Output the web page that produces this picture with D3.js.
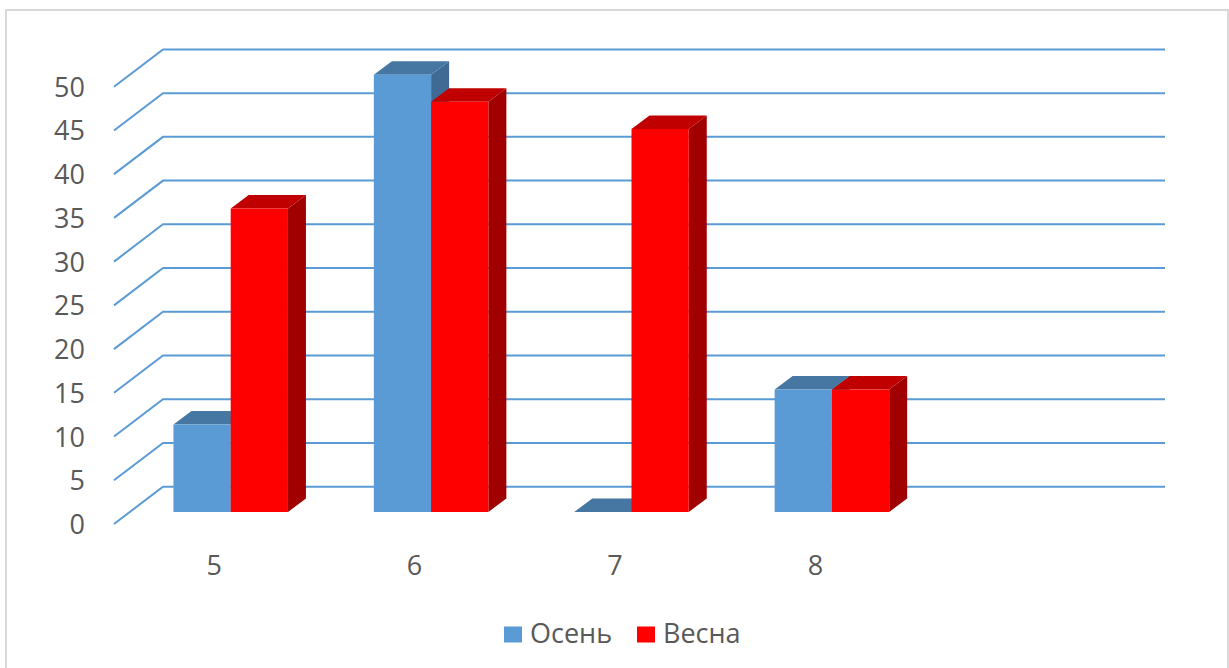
<!DOCTYPE html>
<html>
<head>
<meta charset="utf-8">
<script src="https://cdn.jsdelivr.net/npm/d3@7"></script>
<style>
  html, body { margin: 0; padding: 0; background: #fff; }
  svg { display: block; }
  text { font-family: "Open Sans", "Liberation Sans", sans-serif; fill: #595959; }
</style>
</head>
<body>
<svg id="chart" width="1229" height="668"></svg>
<script>
// ---- data ----
const categories = ["5", "6", "7", "8", ""];
const seriesNames = ["Осень", "Весна"];
const autumn = [10, 50, 0, 14, null];
const spring = [34.7, 46.9, 43.8, 14, null];
const yTicks = [0, 5, 10, 15, 20, 25, 30, 35, 40, 45, 50];

const colors = [
  { front: "#5B9BD5", top: "#4677A3", side: "#3E6A93" },
  { front: "#FF0000", top: "#C00000", side: "#A00000" }
];

const svg = d3.select("#chart");

// chart border
svg.append("rect")
  .attr("x", 6).attr("y", 10).attr("width", 1222).attr("height", 670)
  .attr("fill", "none").attr("stroke", "#d9d9d9").attr("stroke-width", 2);

// scales at the front plane of the plot
const x = d3.scaleBand().domain(categories).range([114, 1116]).paddingInner(0).paddingOuter(0);
const y = d3.scaleLinear().domain([0, 50]).range([524, 86.7]);

// oblique projection offsets for depth
const wallDepth = { dx: 49, dy: -37.3 };
const barFront = { dx: 16.5, dy: -12 };
const barBack = { dx: 34.5, dy: -25.5 };

// gridlines (left wall diagonal + back wall horizontal)
const gridG = svg.append("g");
yTicks.forEach(v => {
  const y0 = y(v);
  const x0 = x.range()[0];
  const x1 = x.range()[1];
  gridG.append("path")
    .attr("d", `M${x0},${y0} L${x0 + wallDepth.dx},${y0 + wallDepth.dy} L${x1 + wallDepth.dx},${y0 + wallDepth.dy}`)
    .attr("fill", "none").attr("stroke", "#5B9BD5").attr("stroke-width", 2);
});

// y tick labels
svg.append("g").selectAll("text").data(yTicks).join("text")
  .attr("x", 85).attr("y", d => y(d) + 10)
  .attr("text-anchor", "end")
  .attr("font-size", 27)
  .text(d => d);

// category labels
svg.append("g").selectAll("text").data(categories).join("text")
  .attr("x", d => x(d) + x.bandwidth() / 2)
  .attr("y", 575)
  .attr("text-anchor", "middle")
  .attr("font-size", 27)
  .text(d => d);

// bars
const bw = x.bandwidth() / 3.5;
const barsG = svg.append("g");
const series = [autumn, spring];
categories.forEach((c, ci) => {
  series.forEach((vals, si) => {
    const v = vals[ci];
    if (v === null || v === undefined) return;
    const fx0 = x(c) + (x.bandwidth() - 2 * bw) / 2 + si * bw + barFront.dx;
    const fx1 = fx0 + bw;
    const fyTop = y(v) + barFront.dy;
    const fyBot = y(0) + barFront.dy;
    const ddx = barBack.dx - barFront.dx;
    const ddy = barBack.dy - barFront.dy;
    const col = colors[si];
    // side face
    barsG.append("path")
      .attr("d", `M${fx1},${fyBot} L${fx1 + ddx},${fyBot + ddy} L${fx1 + ddx},${fyTop + ddy} L${fx1},${fyTop} Z`)
      .attr("fill", col.side);
    // top face
    barsG.append("path")
      .attr("d", `M${fx0},${fyTop} L${fx0 + ddx},${fyTop + ddy} L${fx1 + ddx},${fyTop + ddy} L${fx1},${fyTop} Z`)
      .attr("fill", col.top);
    // front face
    barsG.append("rect")
      .attr("x", fx0).attr("y", fyTop)
      .attr("width", bw).attr("height", Math.max(0, fyBot - fyTop))
      .attr("fill", col.front);
  });
});

// legend
const legend = svg.append("g");
const legendItems = [
  { name: seriesNames[0], color: colors[0].front, x: 504 },
  { name: seriesNames[1], color: colors[1].front, x: 637 }
];
legendItems.forEach(it => {
  legend.append("rect").attr("x", it.x).attr("y", 626.5).attr("width", 18).attr("height", 16).attr("fill", it.color);
  legend.append("text").attr("x", it.x + 26).attr("y", 643).attr("font-size", 27).text(it.name);
});
</script>
</body>
</html>
